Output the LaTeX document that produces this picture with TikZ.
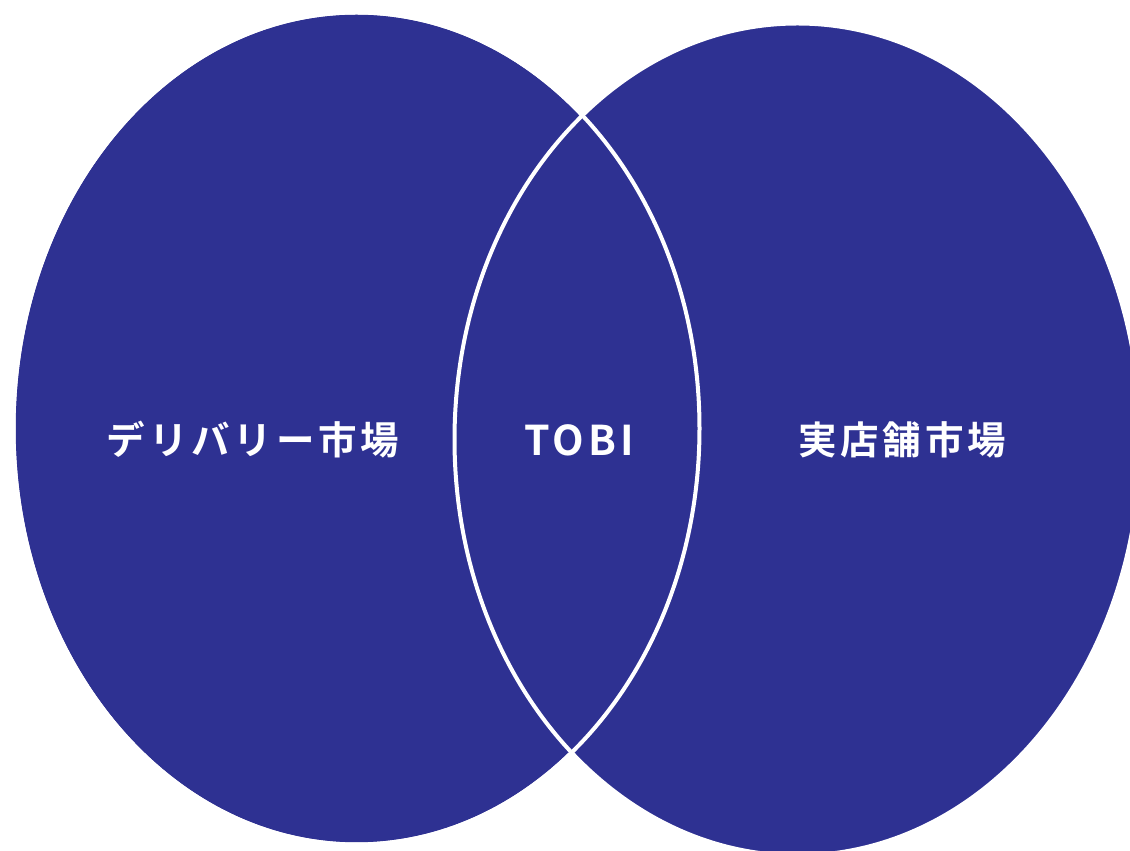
\documentclass[tikz,border=0pt]{standalone}
\usepackage{fontspec}
\newfontfamily\jpfont{Noto Sans CJK JP}[BoldFont=* Bold, LetterSpace=10]
\usepackage{tikz}
\definecolor{tobiblue}{HTML}{2E3192}

\begin{document}
\begin{tikzpicture}[x=1pt, y=1pt,
        market/.style = {fill=tobiblue, draw=white, line width=4pt},
        edge/.style = {draw=white, line width=4pt},
        label/.style = {text=white, font=\jpfont\bfseries\fontsize{38.5}{42}\selectfont, inner sep=0pt}
        ]
        \useasboundingbox (0,0) rectangle (1130,851);

        \path[market] (356.5,422.5) ellipse (343 and 416);
        \path[market] (797.5,411.5) ellipse (343 and 416);
        \path[edge] (356.5,422.5) ellipse (343 and 416);

        \node[label] (delivery) at (253,411) {デリバリー市場};
        \node[label] (tobi) at (579,411) {\fontsize{41}{45}\selectfont TOBI};
        \node[label] (store) at (902,411) {実店舗市場};
    \end{tikzpicture}
\end{document}
